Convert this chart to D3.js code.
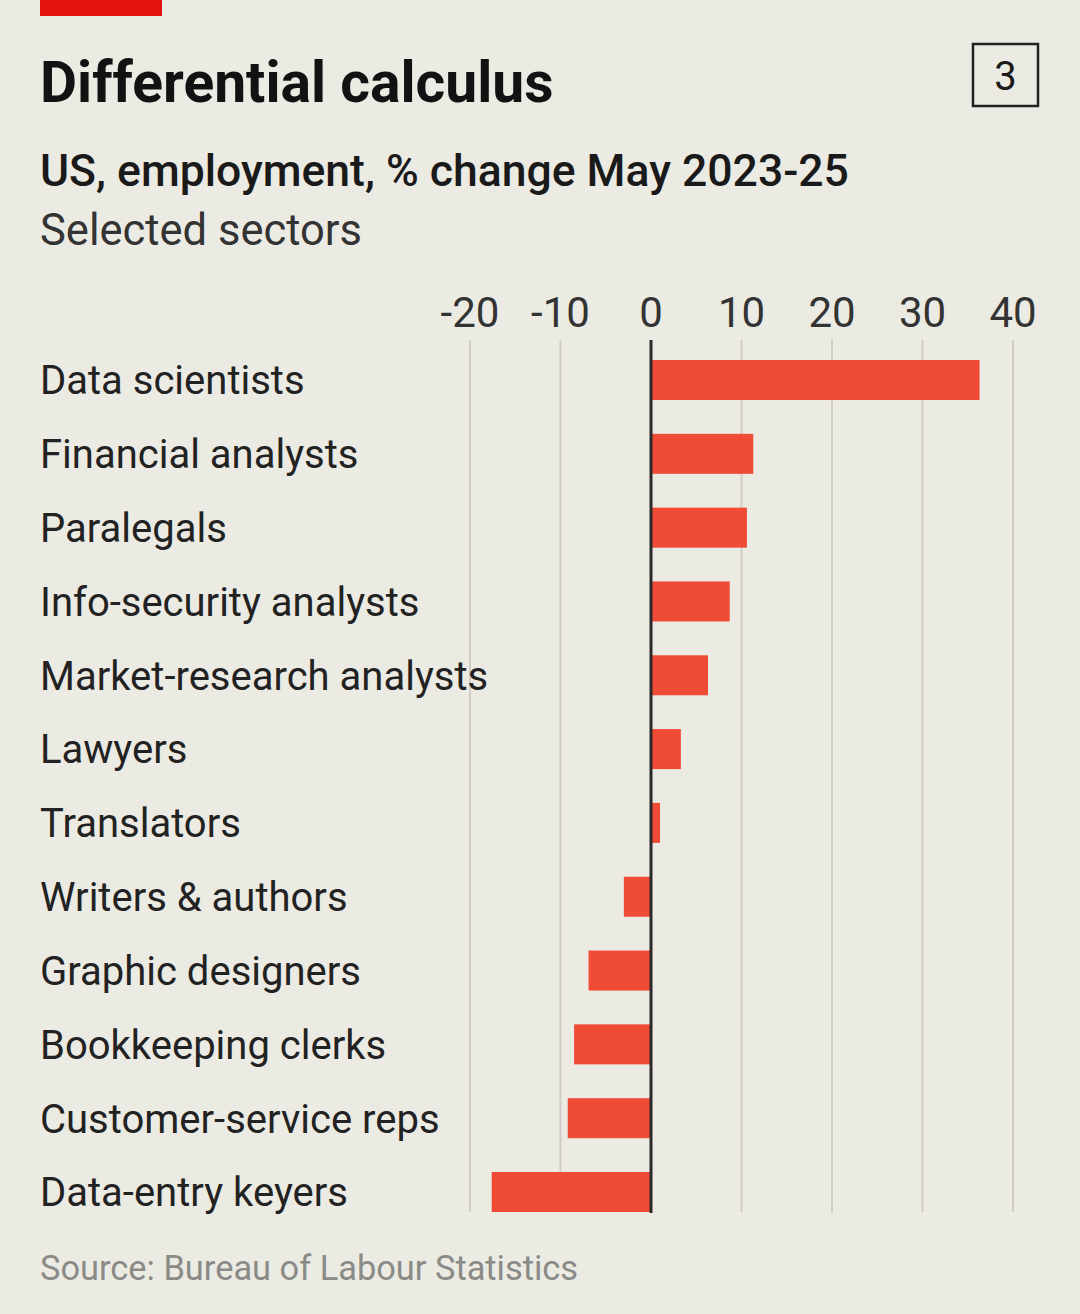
<!DOCTYPE html>
<html>
<head>
<meta charset="utf-8">
<script src="https://cdn.jsdelivr.net/npm/d3@7"></script>
<style>
  html, body { margin: 0; padding: 0; background: #ecebe3; }
  svg { display: block; }
  text { font-family: Roboto, "Noto Sans", sans-serif; }
</style>
</head>
<body>
<div id="chart"></div>
<script>
// data
const sectors = [
  'Data scientists', 'Financial analysts', 'Paralegals', 'Info-security analysts',
  'Market-research analysts', 'Lawyers', 'Translators', 'Writers & authors',
  'Graphic designers', 'Bookkeeping clerks', 'Customer-service reps', 'Data-entry keyers'
]
const change = [36.3, 11.3, 10.6, 8.7, 6.3, 3.3, 1.0, -3.0, -6.9, -8.5, -9.2, -17.6]
const ticks = [-20, -10, 0, 10, 20, 30, 40]

const width = 1080
const height = 1314

const svg = d3.select('#chart')
  .append('svg')
  .attr('width', width)
  .attr('height', height)

svg.append('rect')
  .attr('width', width)
  .attr('height', height)
  .attr('fill', '#ecebe3')

// red tag top-left
svg.append('rect')
  .attr('x', 40)
  .attr('y', 0)
  .attr('width', 122)
  .attr('height', 16)
  .attr('fill', '#e3120b')

svg.append('text')
  .attr('x', 40)
  .attr('y', 102)
  .style('font-size', '57px')
  .style('font-weight', 700)
  .style('fill', '#121212')
  .text('Differential calculus')

// chart number box
svg.append('rect')
  .attr('x', 973)
  .attr('y', 44)
  .attr('width', 65)
  .attr('height', 62)
  .attr('fill', 'none')
  .attr('stroke', '#222')
  .attr('stroke-width', 2.5)

svg.append('text')
  .attr('x', 1005.5)
  .attr('y', 90)
  .attr('text-anchor', 'middle')
  .style('font-size', '40px')
  .style('fill', '#1a1a1a')
  .text('3')

svg.append('text')
  .attr('x', 40)
  .attr('y', 186)
  .style('font-size', '44.5px')
  .style('font-weight', 500)
  .style('fill', '#1a1a1a')
  .text('US, employment, % change May 2023-25')

svg.append('text')
  .attr('x', 40)
  .attr('y', 245)
  .style('font-size', '43.5px')
  .style('fill', '#333')
  .text('Selected sectors')

const x = d3.scaleLinear()
  .domain([-20, 40])
  .range([470, 1013])

const y = d3.scaleBand()
  .domain(sectors)
  .range([343.1, 1228.9])
  .paddingInner(0.458)
  .paddingOuter(0.229)

// gridlines
svg.append('g')
  .selectAll('line')
  .data(ticks.filter(d => d !== 0))
  .join('line')
  .attr('x1', d => x(d))
  .attr('x2', d => x(d))
  .attr('y1', 340)
  .attr('y2', 1212)
  .attr('stroke', '#cfcdc5')
  .attr('stroke-width', 2)

// tick labels
svg.append('g')
  .selectAll('text')
  .data(ticks)
  .join('text')
  .attr('x', d => x(d))
  .attr('y', 327)
  .attr('text-anchor', 'middle')
  .style('font-size', '42px')
  .style('fill', '#333')
  .text(d => d)

// bars
svg.append('g')
  .selectAll('rect')
  .data(change)
  .join('rect')
  .attr('x', d => x(Math.min(0, d)))
  .attr('y', (d, i) => y(sectors[i]))
  .attr('width', d => Math.abs(x(d) - x(0)))
  .attr('height', y.bandwidth())
  .attr('fill', '#ef4b35')

// zero line
svg.append('line')
  .attr('x1', x(0))
  .attr('x2', x(0))
  .attr('y1', 340)
  .attr('y2', 1213)
  .attr('stroke', '#2a2a2a')
  .attr('stroke-width', 3)

// category labels
svg.append('g')
  .selectAll('text')
  .data(sectors)
  .join('text')
  .attr('x', 40)
  .attr('y', d => y(d) + y.bandwidth() / 2)
  .attr('dy', '0.36em')
  .style('font-size', '40px')
  .style('fill', '#222')
  .text(d => d)

svg.append('text')
  .attr('x', 40)
  .attr('y', 1280)
  .style('font-size', '34.4px')
  .style('fill', '#8a8a86')
  .text('Source: Bureau of Labour Statistics')
</script>
</body>
</html>
